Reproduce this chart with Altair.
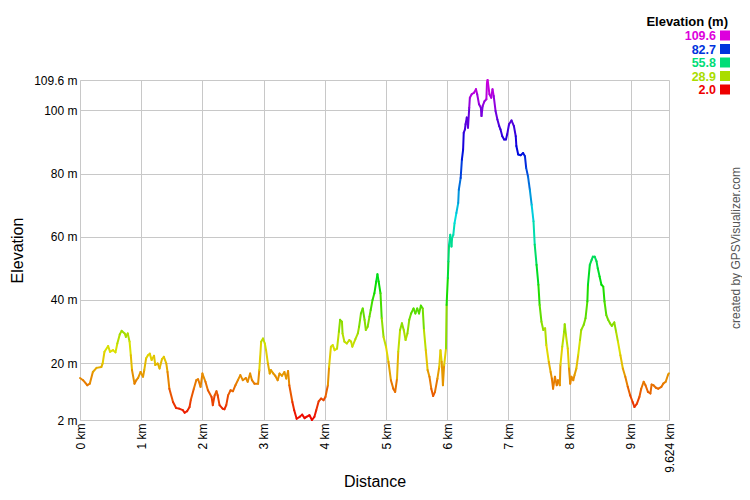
import altair as alt
import pandas as pd

# Distance (km) and elevation (m)
km = [0.00, 0.05, 0.12, 0.16, 0.21, 0.27, 0.35, 0.37, 0.40, 0.46, 0.49, 0.54, 0.58, 0.61, 0.65, 0.68,
      0.73, 0.75, 0.78, 0.81, 0.83, 0.85, 0.89, 0.92, 0.95, 0.99, 1.03, 1.05, 1.08, 1.11, 1.14, 1.17,
      1.21, 1.23, 1.27, 1.30, 1.34, 1.37, 1.41, 1.43, 1.46, 1.52, 1.57, 1.62, 1.68, 1.71, 1.75, 1.79,
      1.81, 1.86, 1.90, 1.93, 1.97, 2.00, 2.05, 2.09, 2.15, 2.17, 2.20, 2.23, 2.25, 2.28, 2.33, 2.36,
      2.39, 2.42, 2.46, 2.50, 2.54, 2.58, 2.62, 2.66, 2.71, 2.74, 2.78, 2.81, 2.85, 2.91, 2.93, 2.96,
      2.99, 3.02, 3.04, 3.07, 3.10, 3.12, 3.16, 3.19, 3.23, 3.26, 3.30, 3.34, 3.37, 3.40, 3.42, 3.47,
      3.50, 3.54, 3.59, 3.63, 3.67, 3.70, 3.75, 3.79, 3.83, 3.86, 3.90, 3.94, 3.98, 4.01, 4.05, 4.07,
      4.10, 4.13, 4.16, 4.20, 4.23, 4.25, 4.28, 4.29, 4.32, 4.36, 4.40, 4.43, 4.45, 4.50, 4.54, 4.56,
      4.59, 4.62, 4.65, 4.67, 4.70, 4.73, 4.75, 4.78, 4.81, 4.84, 4.86, 4.88, 4.91, 4.93, 4.96, 5.00,
      5.04, 5.08, 5.12, 5.15, 5.18, 5.20, 5.23, 5.26, 5.29, 5.32, 5.35, 5.38, 5.41, 5.45, 5.48, 5.51,
      5.54, 5.57, 5.60, 5.62, 5.65, 5.68, 5.71, 5.74, 5.77, 5.80, 5.84, 5.87, 5.89, 5.91, 5.93, 5.95,
      5.98, 5.99, 6.01, 6.02, 6.03, 6.05, 6.07, 6.08, 6.10, 6.12, 6.15, 6.18, 6.19, 6.22, 6.24, 6.26,
      6.27, 6.29, 6.30, 6.32, 6.34, 6.36, 6.37, 6.40, 6.44, 6.47, 6.49, 6.52, 6.55, 6.56, 6.58, 6.61,
      6.64, 6.65, 6.66, 6.69, 6.72, 6.74, 6.76, 6.79, 6.82, 6.85, 6.87, 6.90, 6.93, 6.96, 6.98, 7.01,
      7.05, 7.09, 7.12, 7.13, 7.16, 7.20, 7.24, 7.27, 7.29, 7.32, 7.35, 7.38, 7.41, 7.43, 7.46, 7.49,
      7.51, 7.54, 7.57, 7.60, 7.62, 7.66, 7.69, 7.71, 7.73, 7.76, 7.79, 7.81, 7.84, 7.85, 7.88, 7.91,
      7.92, 7.94, 7.97, 7.99, 8.01, 8.03, 8.06, 8.08, 8.11, 8.14, 8.17, 8.19, 8.23, 8.26, 8.29, 8.30,
      8.33, 8.36, 8.38, 8.41, 8.44, 8.46, 8.49, 8.52, 8.55, 8.57, 8.60, 8.63, 8.66, 8.69, 8.73, 8.76,
      8.79, 8.83, 8.87, 8.91, 8.95, 8.99, 9.03, 9.06, 9.10, 9.14, 9.17, 9.21, 9.24, 9.28, 9.32, 9.34,
      9.37, 9.41, 9.45, 9.50, 9.53, 9.57, 9.61, 9.624]

elev = [15.3, 14.6, 13.0, 13.5, 17.2, 18.5, 18.8, 19.9, 23.6, 25.4, 23.6, 24.1, 23.4, 26.2, 29.1, 30.2,
        29.4, 28.3, 29.4, 26.8, 22.5, 17.8, 13.5, 14.6, 15.3, 17.2, 15.7, 17.8, 21.5, 22.5, 23.0, 21.0,
        22.3, 19.4, 19.9, 18.3, 21.3, 22.0, 19.9, 17.2, 11.9, 7.7, 5.8, 5.6, 5.1, 4.3, 4.8, 6.1,
        8.3, 11.9, 14.6, 14.9, 12.5, 16.7, 14.1, 11.4, 9.3, 6.7, 9.8, 11.1, 9.8, 6.7, 5.6, 5.4,
        6.7, 9.8, 11.4, 11.1, 13.0, 14.6, 16.2, 14.6, 15.3, 14.1, 16.7, 14.6, 13.5, 13.5, 17.8, 26.8,
        27.8, 26.2, 24.1, 19.9, 16.7, 17.8, 16.7, 16.0, 14.6, 16.7, 16.0, 17.2, 15.1, 17.5, 13.0, 7.7,
        5.1, 2.4, 3.0, 3.7, 2.6, 3.0, 3.5, 2.0, 3.0, 5.1, 7.9, 8.8, 8.3, 9.3, 13.0, 18.8,
        25.2, 25.7, 24.1, 24.6, 29.9, 33.7, 33.1, 29.4, 26.8, 26.2, 27.3, 26.8, 25.2, 27.6, 29.4, 31.5,
        35.7, 37.3, 33.7, 30.5, 31.5, 34.7, 36.8, 40.0, 42.1, 45.8, 48.1, 45.8, 42.1, 34.2, 28.3, 25.2,
        20.4, 14.6, 11.9, 10.9, 15.1, 23.6, 30.5, 32.6, 30.5, 27.3, 29.4, 33.7, 35.7, 37.3, 35.7, 37.3,
        35.7, 38.2, 37.3, 30.5, 24.1, 17.8, 15.7, 11.9, 9.6, 10.9, 15.1, 18.8, 24.1, 20.4, 13.0, 19.4,
        24.6, 38.4, 46.9, 52.2, 57.5, 60.6, 56.9, 59.6, 60.6, 64.3, 67.5, 70.7, 74.9, 78.6, 84.4, 87.6,
        92.9, 94.0, 95.6, 97.7, 94.5, 100.8, 104.0, 105.1, 105.6, 106.7, 105.1, 101.9, 100.8, 98.2, 101.4, 102.9,
        103.5, 108.8, 109.6, 105.1, 104.0, 106.7, 104.5, 99.8, 97.1, 95.0, 94.0, 91.8, 90.8, 90.8, 92.4, 95.6,
        96.8, 95.0, 91.8, 88.7, 86.0, 85.8, 86.5, 85.5, 81.8, 79.1, 74.9, 70.1, 64.9, 57.5, 51.1, 44.8,
        38.4, 33.1, 30.5, 31.0, 25.7, 20.4, 17.2, 15.1, 11.9, 15.7, 13.0, 14.6, 13.0, 19.4, 25.2, 29.9,
        32.3, 28.9, 24.6, 18.3, 13.5, 15.7, 14.6, 16.2, 18.3, 22.5, 27.3, 30.5, 32.1, 34.2, 39.5, 44.8,
        51.1, 52.7, 53.7, 53.7, 52.2, 50.0, 47.4, 44.8, 44.2, 39.5, 35.2, 33.7, 32.6, 31.8, 32.9, 29.9,
        26.8, 22.5, 18.3, 15.7, 12.5, 9.8, 7.7, 6.1, 7.2, 9.3, 11.9, 14.1, 13.0, 10.9, 10.4, 13.2,
        13.0, 12.2, 11.9, 12.5, 13.5, 14.1, 16.4, 16.8]

legend_values = [109.6, 82.7, 55.8, 28.9, 2.0]
color_stops = [2.0, 28.9, 55.8, 82.7, 109.6]
color_range = ["#ee0000", "#aadd00", "#00dd77", "#0033dd", "#dd00dd"]
x_ticks = [0, 1, 2, 3, 4, 5, 6, 7, 8, 9, 9.624]
y_ticks = [2, 20, 40, 60, 80, 100, 109.6]
legend_title = ["Elevation (m)"]
credit = ["created by GPSVisualizer.com"]

FONT = "Liberation Sans"

df = pd.DataFrame({"km": km, "elev": elev})
df["km2"] = df["km"].shift(-1)
df["elev2"] = df["elev"].shift(-1)
df = df.dropna().copy()
df["c"] = (df["elev"] + df["elev2"]) / 2

color_scale = alt.Scale(domain=color_stops, range=color_range, interpolate="hsl")

line = alt.Chart(df).mark_rule(strokeWidth=2, strokeCap="round").encode(
    x=alt.X("km:Q",
            scale=alt.Scale(domain=[0, 9.624], nice=False, zero=False),
            axis=alt.Axis(values=x_ticks, labelExpr="datum.value + ' km'", labelAngle=270,
                          title="Distance", titleY=66, titleBaseline="alphabetic")),
    x2="km2:Q",
    y=alt.Y("elev:Q",
            scale=alt.Scale(domain=[2, 109.6], nice=False, zero=False),
            axis=alt.Axis(values=y_ticks, labelExpr="datum.value + ' m'",
                          title="Elevation", titleX=-58, titleY=170, titleAngle=270,
                          titleBaseline="alphabetic")),
    y2="elev2:Q",
    color=alt.Color("c:Q", scale=color_scale, legend=None),
)

leg_base = alt.Chart(pd.DataFrame({"v": legend_values})).transform_window(
    idx="row_number()"
).transform_calculate(
    ty="-40 + 13.5 * (datum.idx - 1)",
    sy="-44.5 + 13.5 * (datum.idx - 1)",
    label="format(datum.v, '.1f')",
)

leg_text = leg_base.mark_text(align="right", baseline="alphabetic", fontSize=12.5,
                              fontWeight="bold", font=FONT).encode(
    x=alt.value(636),
    y=alt.Y("ty:Q", scale=None, axis=None),
    text="label:N",
    color=alt.Color("v:Q", scale=color_scale, legend=None),
)

leg_sq = leg_base.mark_square(size=100, filled=True, opacity=1).encode(
    x=alt.value(645),
    y=alt.Y("sy:Q", scale=None, axis=None),
    color=alt.Color("v:Q", scale=color_scale, legend=None),
)

leg_title = alt.Chart(pd.DataFrame({"t": legend_title})).mark_text(
    align="right", baseline="alphabetic", fontSize=13, fontWeight="bold", font=FONT, color="#000000"
).encode(x=alt.value(648), y=alt.value(-54), text="t:N")

credit_text = alt.Chart(pd.DataFrame({"t": credit})).mark_text(
    align="center", baseline="middle", angle=270, fontSize=12, font=FONT, color="#555555"
).encode(x=alt.value(656), y=alt.value(168), text="t:N")

chart = alt.layer(line, leg_text, leg_sq, leg_title, credit_text).properties(
    width=589, height=340,
    autosize=alt.AutoSizeParams(type="none"),
    padding={"left": 72, "top": 72, "right": 73, "bottom": 72},
).configure_view(stroke=None).configure_axis(
    gridColor="#c8c8c8", gridWidth=1, domainColor="#c8c8c8", domainWidth=1,
    ticks=False, labelPadding=3, labelFont=FONT, labelFontSize=12, labelColor="#000000",
    labelFlush=False, labelOverlap=False, labelBound=False,
    titleFont=FONT, titleFontSize=16, titleFontWeight="normal", titleColor="#000000",
)

chart.save("out.html", embed_options={"renderer": "svg", "actions": False})
